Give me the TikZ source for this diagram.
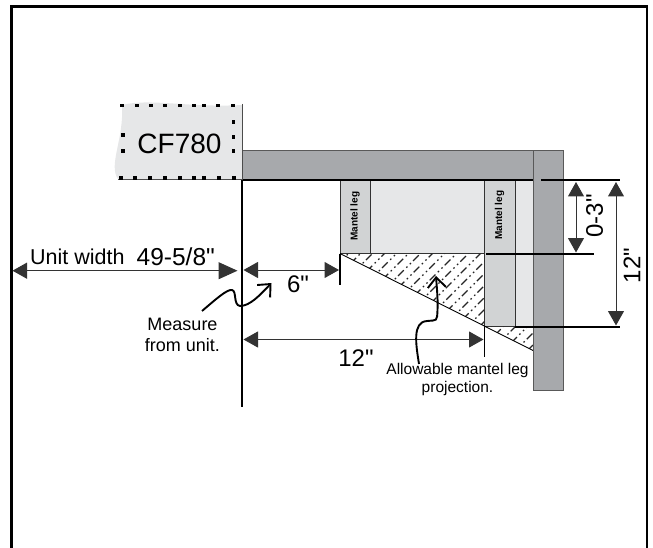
\documentclass[tikz,border=0pt]{standalone}
\usepackage{fontspec}
\setmainfont{Liberation Sans}[Ligatures=TeXOff]
\usetikzlibrary{arrows.meta}
\definecolor{wallgrey}{HTML}{A7A9AC}
\definecolor{legrey}{HTML}{D1D3D4}
\definecolor{panelgrey}{HTML}{E6E7E8}
\tikzset{
  x=1pt,y=-1pt,
  panel/.style={fill=panelgrey,draw=black!80,line width=1pt},
  leg/.style={fill=legrey,draw=black!80,line width=1pt},
  wall/.style={fill=wallgrey,draw=black!65,line width=0.8pt},
  dim/.style={draw=black!80,line width=1pt,{Triangle[length=14.5pt,width=16pt]}-{Triangle[length=14.5pt,width=16pt]}},
  dimw/.style={draw=black!80,line width=1pt,{Triangle[length=14.5pt,width=16pt]}-{Triangle[length=19pt,width=17pt]}},
  tick/.style={draw=black,line width=1.6pt},
  extline/.style={draw=black,line width=2pt},
  curly/.style={draw=black,line width=1.9pt,-{Straight Barb[length=10pt,width=18pt,line width=1.9pt]}},
  lab/.style={inner sep=0pt,text=black,align=center},
  bigl/.style={lab,font=\fontsize{24}{24}\selectfont},
  smalll/.style={lab,font=\fontsize{18}{21}\selectfont},
  legl/.style={lab,rotate=90,font=\fontsize{10}{10}\selectfont\bfseries},
  sq/.style={fill=black,minimum size=3.2pt,inner sep=0pt,draw=none,rectangle}
}
\begin{document}
\begin{tikzpicture}
\useasboundingbox (0,0) rectangle (653,548);
% frame
\draw[line width=2.6pt,black] (11.5,548) -- (11.5,6.5) -- (647,6.5) -- (647,548);
% CF780 unit
\fill[panelgrey] (122,105) .. controls (150,98) and (190,108) .. (242,105) -- (242,179) -- (118,179)
  .. controls (108,165) and (124,140) .. (122,105) -- cycle;
\draw[draw=black!70,line width=1.2pt] (118,179.5) -- (242,179.5);
\foreach \x in {122,137,151,165,180,194,204,218,233} \node[sq] at (\x,105.8) {};
\foreach \x in {121,135,150,165,180,194,204,219,234} \node[sq] at (\x,178) {};
\foreach \y in {122,137,151} \node[sq] at (233.5,\y) {};
\foreach \y in {135,151} \node[sq] at (123,\y) {};
\node[lab,font=\fontsize{28}{28}\selectfont] (cf) at (179.5,143.5) {CF780};
% panels
\draw[panel] (370,180) rectangle (484.5,253.5);
\draw[panel] (515,180) rectangle (533,326.5);
\draw[leg] (340,180) rectangle (370,253.5);
\draw[leg] (484.5,180) rectangle (515,326.5);
% hatching
\begin{scope}
\clip (340,253.5) -- (533,350.5) -- (533,326.5) -- (484.5,326.5) -- (484.5,253.5) -- cycle;
\foreach \k in {0,...,24}
  \draw[black!85,line width=1.2pt,dash pattern=on 8pt off 3pt on 1.6pt off 3.5pt on 1.6pt off 3.5pt,dash phase=\k*5pt]
    (340+\k*12,250) -- ++(-110,110);
\end{scope}
\draw[black,line width=0.9pt] (340,253.5) -- (533,350.5);
% walls
\draw[wall] (242,150) rectangle (534,180);
\draw[draw=black,line width=1.2pt] (242,180) -- (534,180);
\draw[wall] (533.5,150) rectangle (563.5,390);
% unit line
\draw[draw=black!70,line width=1pt] (242,104) -- (242,180);
\coordinate (uT) at (242,180);
\coordinate (uB) at (242,407);
\draw[extline] (uT) -- (uB);
% extension lines
\coordinate (a1) at (541,180.5); \coordinate (a2) at (620,180.5);
\coordinate (b1) at (486,254); \coordinate (b2) at (594,254);
\coordinate (c1) at (515,326.5); \coordinate (c2) at (620,326.5);
\draw[extline] (a1) -- (a2);
\draw[extline] (b1) -- (b2);
\draw[extline] (c1) -- (c2);
% ticks
\coordinate (t6a) at (340,254); \coordinate (t6b) at (340,285);
\coordinate (t12a) at (484.5,327); \coordinate (t12b) at (484.5,357);
\draw[tick] (t6a) -- (t6b);
\draw[tick] (t12a) -- (t12b);
% dimensions
\coordinate (w1) at (12.5,270.7); \coordinate (w2) at (237.5,270.7);
\draw[dimw] (w1) -- (w2);
\coordinate (s1) at (243.5,270); \coordinate (s2) at (339,270);
\draw[dim] (s1) -- (s2);
\coordinate (d1) at (243.5,339.5); \coordinate (d2) at (483.5,339.5);
\draw[dim] (d1) -- (d2);
\coordinate (z1) at (576,182); \coordinate (z2) at (576,252.5);
\draw[dim] (z1) -- (z2);
\coordinate (y1) at (616,182); \coordinate (y2) at (616,325.5);
\draw[dim] (y1) -- (y2);
% labels
\node[lab,font=\fontsize{21.5}{21.5}\selectfont,anchor=base west] (uw) at (30,264.5) {Unit width};
\node[lab,font=\fontsize{24.5}{24.5}\selectfont,anchor=base west] (uv) at (136.5,265.5) {49-5/8"};
\node[bigl,anchor=base] (six) at (298,292) {6"};
\node[bigl,anchor=base] (twelveh) at (356,366) {12"};
\node[bigl,rotate=90] (zt) at (594.5,216) {0-3"};
\node[bigl,rotate=90] (tw) at (632,265.5) {12"};
\node[smalll] (meas) at (182.5,335) {Measure\\from unit.};
\node[lab,font=\fontsize{15.5}{17.5}\selectfont] (allow) at (457.5,379.5) {Allowable mantel leg\\projection.};
\node[legl] (l1) at (355,216) {Mantel leg};
\node[legl] (l2) at (499.5,215) {Mantel leg};
% curly arrows
\coordinate (m0) at (202,311); \coordinate (m1) at (271.5,283);
\draw[curly] (m0) .. controls (215,300) and (227,289) .. (232,290)
  .. controls (237,291) and (233,305) .. (240,306)
  .. controls (250,306) and (260,295) .. (m1);
\coordinate (p0) at (419,364); \coordinate (p1) at (436,276);
\draw[curly] (p0) .. controls (416,345) and (412,322) .. (427,321)
  .. controls (437,320) and (437,322) .. (437.5,310)
  .. controls (438,300) and (437,290) .. (p1);
\end{tikzpicture}
\end{document}
